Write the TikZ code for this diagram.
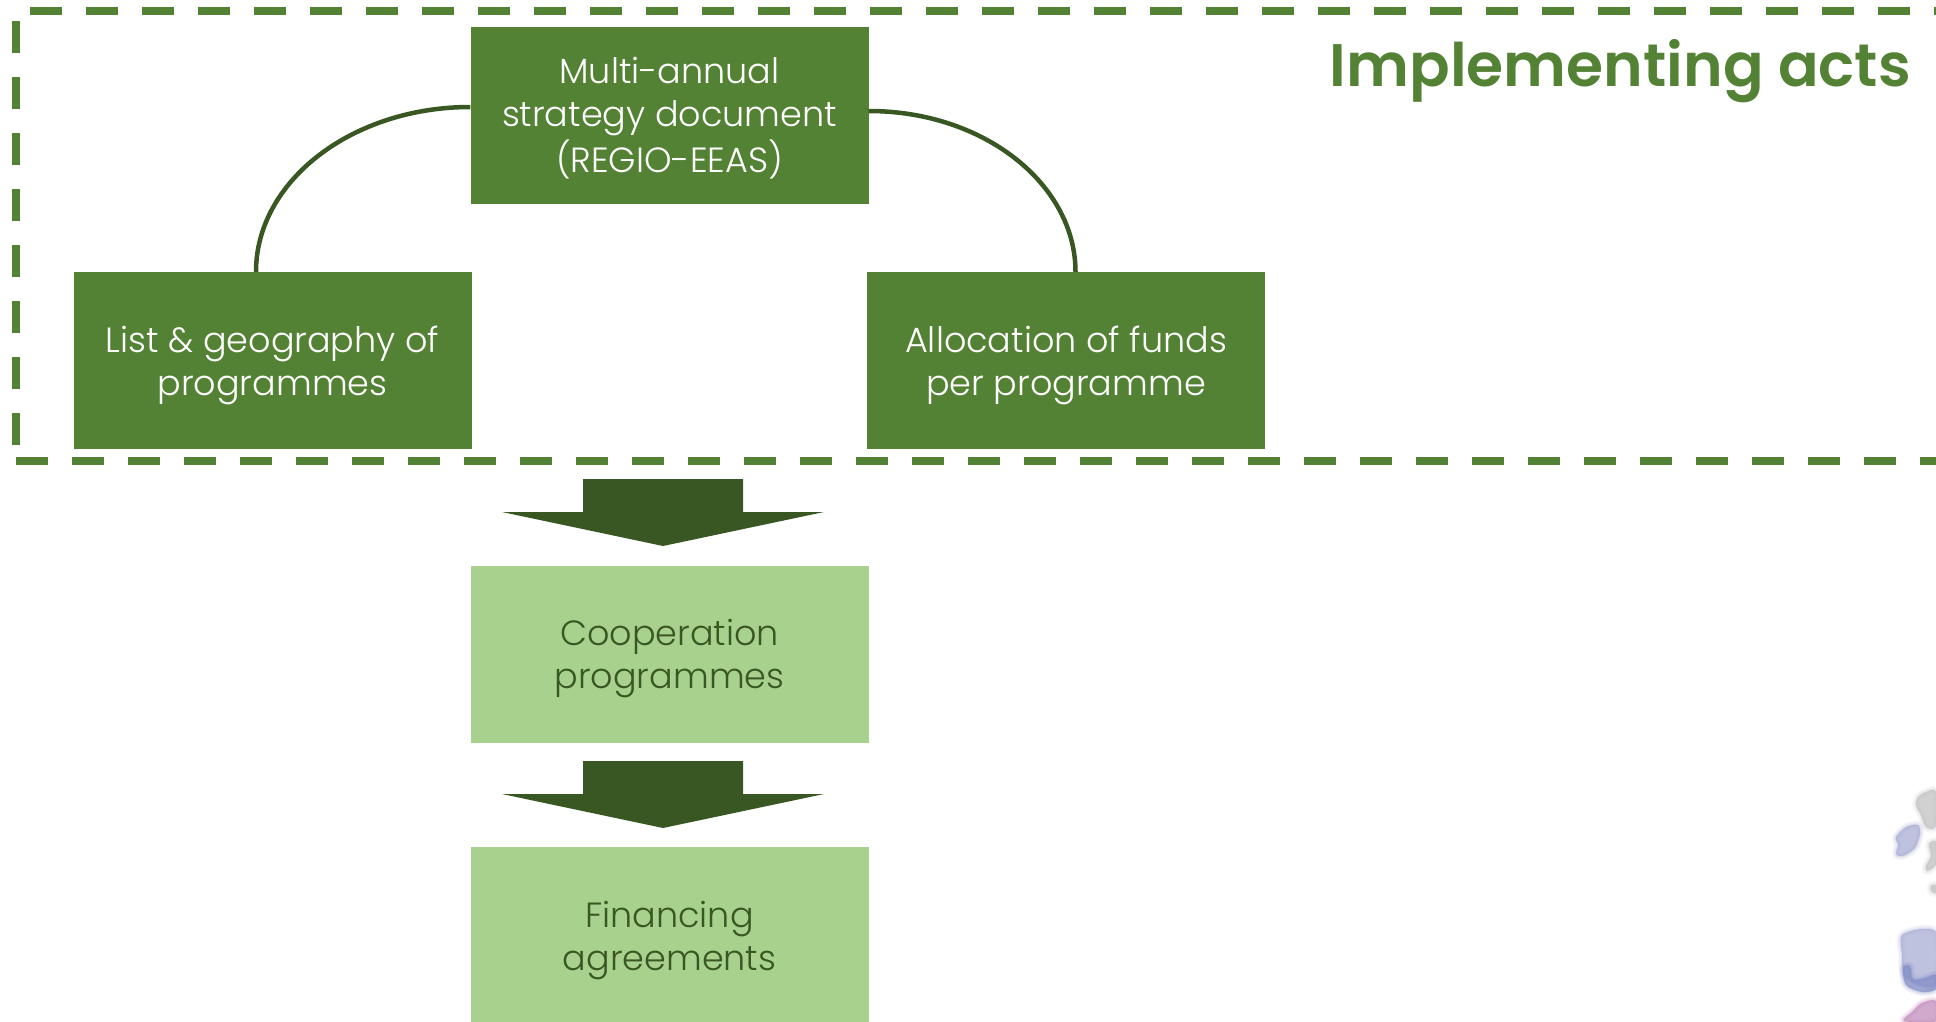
\documentclass[tikz,border=0pt]{standalone}
\usepackage{fontspec}
\setmainfont{Poppins}[UprightFont=* Light,BoldFont=* SemiBold]
\usetikzlibrary{calc}
\definecolor{midgreen}{HTML}{548235}
\definecolor{lightgreen}{HTML}{A9D18E}
\definecolor{darkgreen}{HTML}{385723}
\definecolor{mapgrey}{HTML}{BDBDBD}
\definecolor{mapblue}{HTML}{A4A8D0}
\definecolor{mapdeep}{HTML}{808AC4}
\definecolor{mappurple}{HTML}{BE85B8}
\newcommand{\blob}[2]{%
  \draw[#1,line width=8pt,opacity=.10,line join=round] plot[smooth cycle] coordinates {#2};
  \draw[#1,line width=5pt,opacity=.15,line join=round] plot[smooth cycle] coordinates {#2};
  \draw[#1,line width=2pt,opacity=.2,line join=round] plot[smooth cycle] coordinates {#2};
  \fill[#1,opacity=.7] plot[smooth cycle] coordinates {#2};
}
\newcommand{\lowered}[1]{\raisebox{-4.5pt}[\dimexpr\height+4.5pt\relax][\dimexpr\depth+4.5pt\relax]{\begin{tabular}{@{}c@{}}#1\end{tabular}}}
\tikzset{
  dashline/.style={draw=midgreen,line width=8pt,dash pattern=on 32pt off 24pt},
  darkbox/.style={fill=midgreen,text=white,minimum width=398pt,minimum height=177pt,inner sep=0pt,align=center,font=\fontsize{35}{43}\selectfont},
  lightbox/.style={fill=lightgreen,text=darkgreen,minimum width=398pt,minimum height=177pt,inner sep=0pt,align=center,font=\fontsize{35}{43}\selectfont},
  conn/.style={draw=darkgreen,line width=4.5pt},
  blockarrow/.style={fill=darkgreen},
  title/.style={text=midgreen,inner sep=0pt,anchor=base east,font=\fontsize{60}{62}\selectfont\bfseries},
}
\begin{document}
\begin{tikzpicture}[x=1pt,y=-1pt]
\useasboundingbox (0,0) rectangle (1936,1021);
\clip (0,0) rectangle (1936,1021);
% map fragment
\blob{mapgrey}{(1918,797) (1926,792) (1936,792) (1936,826) (1926,827) (1921,815) (1916,805)}
\blob{mapgrey}{(1929,844) (1936,842) (1936,864) (1927,871) (1926,866) (1931,856)}
\blob{mapgrey}{(1931,886) (1936,885) (1936,893) (1931,891)}
\blob{mapblue}{(1906,827) (1918,825) (1920,834) (1915,848) (1903,856) (1896,854) (1898,845) (1896,837)}
\blob{mapblue}{(1903,934) (1936,932) (1936,984) (1915,984) (1904,975) (1902,955)}
\blob{mapdeep}{(1903,968) (1910,966) (1913,979) (1925,978) (1936,975) (1936,989) (1922,992) (1906,985)}
\blob{mappurple}{(1922,1003) (1936,1001) (1936,1021) (1904,1021) (1912,1012)}
% dashed frame
\draw[dashline] (30,11) -- (1936,11);
\draw[dashline] (16,21) -- (16,446);
\draw[dashline] (16,461) -- (1936,461);
% boxes
\node[darkbox] (strategy) at (669.5,115) {\lowered{Multi-annual\\strategy document\\(REGIO-EEAS)}};
\node[darkbox] (listgeo) at (272.5,360.5) {\lowered{List \& geography of\\programmes}};
\node[darkbox] (alloc) at (1066,360.5) {\lowered{Allocation of funds\\per programme}};
\node[lightbox] (coop) at (669.5,654) {\lowered{Cooperation\\programmes}};
\node[lightbox] (fin) at (669.5,935.5) {\lowered{Financing\\agreements}};
% connectors
\draw[conn] ([yshift=8pt]strategy.west) .. controls (352,107) and (256,181) .. ([xshift=-16.5pt]listgeo.north);
\draw[conn] ([yshift=4pt]strategy.east) .. controls (985,111) and (1075.5,185) .. ([xshift=9.5pt]alloc.north);
% block arrows
\fill[blockarrow] (583,479) -- (743,479) -- (743,512) -- (824,512) -- (663,546) -- (502,512) -- (583,512) -- cycle;
\fill[blockarrow] (583,761) -- (743,761) -- (743,794) -- (824,794) -- (663,828) -- (502,794) -- (583,794) -- cycle;
% title
\node[title] (acts) at (1911,86) {Implementing acts};
\end{tikzpicture}
\end{document}
